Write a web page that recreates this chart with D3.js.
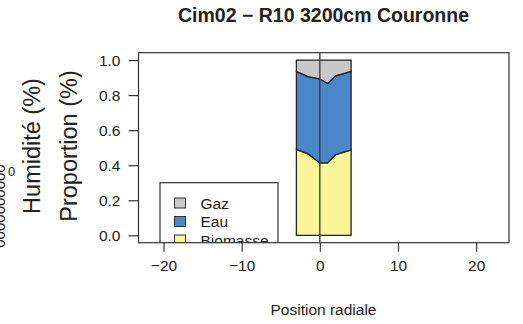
<!DOCTYPE html>
<html>
<head>
<meta charset="utf-8">
<script src="https://cdn.jsdelivr.net/npm/d3@7"></script>
<style>
  body { margin: 0; background: #fff; }
  svg { font-family: "Liberation Sans", Arial, sans-serif; }
</style>
</head>
<body>
<div id="chart"></div>
<script>
// radial positions and the three stacked proportions
const positions = [-3, -1.5, 0, 1, 2, 4];
const biomasse = [0.49, 0.465, 0.413, 0.413, 0.46, 0.487];
const eau = [0.445, 0.44, 0.48, 0.453, 0.45, 0.448];
const gaz = [0.065, 0.095, 0.107, 0.134, 0.09, 0.065];

const seriesNames = ["Biomasse", "Eau", "Gaz"];
const seriesColors = ["#faf598", "#4a86c8", "#c8c8c8"];
const xTicks = [-20, -10, 0, 10, 20];
const yTicks = [0, 0.2, 0.4, 0.6, 0.8, 1.0];

const width = 523, height = 324;
const pLeft = 138.5, pRight = 509, pTop = 52.7, pBottom = 242.7;

const rows = positions.map((p, i) => ({ pos: p, Biomasse: biomasse[i], Eau: eau[i], Gaz: gaz[i] }));

const x = d3.scaleLinear().domain([-23.2, 24.2]).range([pLeft, pRight]);
const y = d3.scaleLinear().domain([-0.042, 1.042]).range([pBottom, pTop]);

const svg = d3.select("#chart").append("svg")
  .attr("width", width).attr("height", height);

svg.append("defs").append("clipPath").attr("id", "plotclip")
  .append("rect").attr("x", pLeft).attr("y", pTop)
  .attr("width", pRight - pLeft).attr("height", pBottom - pTop);

// title
svg.append("text")
  .attr("x", 323.5).attr("y", 22)
  .attr("text-anchor", "middle")
  .style("font-weight", "bold").style("font-size", "19.5px").style("fill", "#222")
  .text("Cim02 \u2212 R10 3200cm Couronne");

// stacked areas
const stack = d3.stack().keys(seriesNames);
const layers = stack(rows);
const area = d3.area()
  .x(d => x(d.data.pos))
  .y0(d => y(d[0]))
  .y1(d => y(d[1]));

const plot = svg.append("g").attr("clip-path", "url(#plotclip)");

plot.selectAll("path.layer")
  .data(layers)
  .enter()
  .append("path")
  .attr("class", "layer")
  .attr("d", area)
  .style("fill", (d, i) => seriesColors[i])
  .style("stroke", "#222")
  .style("stroke-width", 1.3)
  .style("stroke-linejoin", "miter");

// vertical line at 0
plot.append("line")
  .attr("x1", x(0)).attr("x2", x(0))
  .attr("y1", pTop).attr("y2", pBottom)
  .style("stroke", "#333").style("stroke-width", 1.3);

// box
svg.append("rect")
  .attr("x", pLeft).attr("y", pTop)
  .attr("width", pRight - pLeft).attr("height", pBottom - pTop)
  .style("fill", "none").style("stroke", "#333").style("stroke-width", 1.2);

// legend (clipped by plot region, covers the box bottom)
const legend = plot.append("g");
legend.append("rect")
  .attr("x", 160).attr("y", 182.7)
  .attr("width", 118).attr("height", 80)
  .style("fill", "#fff").style("stroke", "#333").style("stroke-width", 1.2);
const legendItems = ["Gaz", "Eau", "Biomasse"];
const legendFill = [seriesColors[2], seriesColors[1], seriesColors[0]];
legendItems.forEach((name, i) => {
  const cy = 203 + i * 18.5;
  legend.append("rect")
    .attr("x", 174.5).attr("y", cy - 5)
    .attr("width", 11).attr("height", 10)
    .style("fill", legendFill[i]).style("stroke", "#333").style("stroke-width", 1);
  legend.append("text")
    .attr("x", 200.5).attr("y", cy + 5.5)
    .style("font-size", "15.5px").style("fill", "#222")
    .text(name);
});

// x axis
const xAxis = svg.append("g")
  .attr("transform", `translate(0, ${pBottom})`)
  .call(d3.axisBottom(x).tickValues(xTicks).tickSize(9).tickPadding(8)
    .tickFormat(d => d < 0 ? "\u2212" + Math.abs(d) : d));
xAxis.select(".domain").remove();
xAxis.selectAll("line").style("stroke", "#333").style("stroke-width", 1.2);
xAxis.selectAll("text").style("font-size", "15.5px").style("fill", "#222")
  .style("font-family", "Liberation Sans, Arial, sans-serif");

// y axis
const yAxis = svg.append("g")
  .attr("transform", `translate(${pLeft}, 0)`)
  .call(d3.axisLeft(y).tickValues(yTicks).tickSize(10).tickPadding(8)
    .tickFormat(d3.format(".1f")));
yAxis.select(".domain").remove();
yAxis.selectAll("line").style("stroke", "#333").style("stroke-width", 1.2);
yAxis.selectAll("text").style("font-size", "15.5px").style("fill", "#222")
  .style("font-family", "Liberation Sans, Arial, sans-serif");

// axis titles
svg.append("text")
  .attr("x", 323.5).attr("y", 315)
  .attr("text-anchor", "middle")
  .style("font-size", "15.5px").style("fill", "#222")
  .text("Position radiale");

svg.append("text")
  .attr("transform", "translate(77, 146) rotate(-90)")
  .attr("text-anchor", "middle")
  .style("font-size", "23.5px").style("fill", "#222")
  .text("Proportion (%)");

svg.append("text")
  .attr("transform", "translate(40, 146) rotate(-90)")
  .attr("text-anchor", "middle")
  .style("font-size", "23.5px").style("fill", "#222")
  .text("Humidité (%)");

// leftover of a neighbouring panel at the page edge
svg.append("text")
  .attr("transform", "translate(5, 206) rotate(-90)")
  .attr("text-anchor", "middle")
  .style("font-size", "15px").style("fill", "#222")
  .text("0000000000");
svg.append("text")
  .attr("x", 8).attr("y", 176)
  .style("font-size", "13px").style("fill", "#222")
  .text("0");
</script>
</body>
</html>
